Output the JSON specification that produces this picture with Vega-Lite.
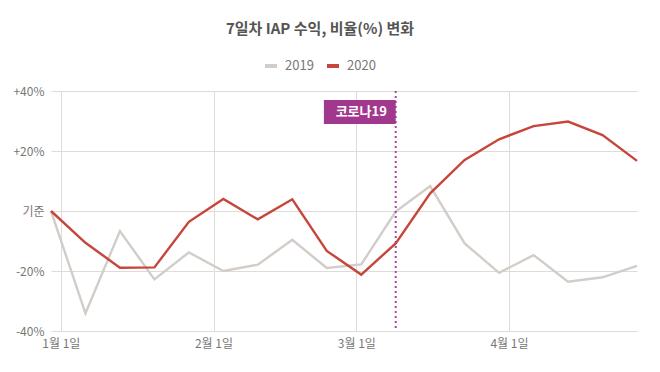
{
  "$schema": "https://vega.github.io/schema/vega-lite/v6.json",
  "width": 586,
  "height": 240,
  "autosize": {"type": "none"},
  "padding": {"left": 51, "top": 91, "right": 23, "bottom": 41},
  "background": "#ffffff",
  "title": {"text": "7일차 IAP 수익, 비율(%) 변화", "font": "Noto Sans CJK KR", "fontSize": 15, "fontWeight": "bold", "color": "#555555", "anchor": "middle", "dx": -24, "offset": 21},
  "config": {"font": "Noto Sans CJK KR", "view": {"stroke": null}},
  "datasets": {
    "series": [
      {"date": "2019-12-30", "year": "2019", "value": 0},
      {"date": "2020-01-06", "year": "2019", "value": -34.1},
      {"date": "2020-01-13", "year": "2019", "value": -6.7},
      {"date": "2020-01-20", "year": "2019", "value": -22.8},
      {"date": "2020-01-27", "year": "2019", "value": -13.8},
      {"date": "2020-02-03", "year": "2019", "value": -20},
      {"date": "2020-02-10", "year": "2019", "value": -17.9},
      {"date": "2020-02-17", "year": "2019", "value": -9.6},
      {"date": "2020-02-24", "year": "2019", "value": -19},
      {"date": "2020-03-02", "year": "2019", "value": -17.8},
      {"date": "2020-03-09", "year": "2019", "value": -0.2},
      {"date": "2020-03-16", "year": "2019", "value": 8.3},
      {"date": "2020-03-23", "year": "2019", "value": -10.8},
      {"date": "2020-03-30", "year": "2019", "value": -20.6},
      {"date": "2020-04-06", "year": "2019", "value": -14.7},
      {"date": "2020-04-13", "year": "2019", "value": -23.6},
      {"date": "2020-04-20", "year": "2019", "value": -22.1},
      {"date": "2020-04-27", "year": "2019", "value": -18.3},
      {"date": "2019-12-30", "year": "2020", "value": 0},
      {"date": "2020-01-06", "year": "2020", "value": -10.6},
      {"date": "2020-01-13", "year": "2020", "value": -18.9},
      {"date": "2020-01-20", "year": "2020", "value": -18.8},
      {"date": "2020-01-27", "year": "2020", "value": -3.6},
      {"date": "2020-02-03", "year": "2020", "value": 4},
      {"date": "2020-02-10", "year": "2020", "value": -2.8},
      {"date": "2020-02-17", "year": "2020", "value": 3.9},
      {"date": "2020-02-24", "year": "2020", "value": -13.3},
      {"date": "2020-03-02", "year": "2020", "value": -21.2},
      {"date": "2020-03-09", "year": "2020", "value": -10.8},
      {"date": "2020-03-16", "year": "2020", "value": 5.9},
      {"date": "2020-03-23", "year": "2020", "value": 17},
      {"date": "2020-03-30", "year": "2020", "value": 23.9},
      {"date": "2020-04-06", "year": "2020", "value": 28.3},
      {"date": "2020-04-13", "year": "2020", "value": 29.8},
      {"date": "2020-04-20", "year": "2020", "value": 25.3},
      {"date": "2020-04-27", "year": "2020", "value": 16.7}
    ],
    "covid": [
      {"date": "2020-03-09", "start": "2020-02-23T10:00:00", "top": 37, "bottom": 29, "textDate": "2020-03-02", "textY": 33, "label": "코로나19"}
    ]
  },
  "layer": [
    {
      "data": {"name": "series"},
      "mark": {"type": "line", "strokeWidth": 2.4},
      "encoding": {
        "x": {
          "field": "date", "type": "temporal",
          "scale": {"domain": ["2019-12-30", "2020-04-27"]},
          "axis": {
            "title": null,
            "values": [{"year": 2020, "month": 1, "date": 1}, {"year": 2020, "month": 2, "date": 1}, {"year": 2020, "month": 3, "date": 1}, {"year": 2020, "month": 4, "date": 1}],
            "format": "%-m월 %-d일",
            "domain": false, "ticks": false, "grid": true, "gridColor": "#dedbd8", "gridWidth": 1,
            "labelColor": "#777777", "labelFontSize": 12, "labelPadding": 7
          }
        },
        "y": {
          "field": "value", "type": "quantitative",
          "scale": {"domain": [-40, 40], "nice": false, "zero": false},
          "axis": {
            "title": null,
            "values": [-40, -20, 0, 20, 40],
            "labelExpr": "datum.value == 0 ? '기준' : (datum.value > 0 ? '+' : '') + datum.value + '%'",
            "domain": false, "ticks": false, "grid": true, "gridColor": "#dedbd8", "gridWidth": 1,
            "labelColor": "#777777", "labelFontSize": 12, "labelPadding": 7
          }
        },
        "color": {
          "field": "year", "type": "nominal",
          "scale": {"domain": ["2019", "2020"], "range": ["#d2cdc8", "#c7463b"]},
          "legend": {
            "title": null, "orient": "none", "legendX": 212, "legendY": -33, "direction": "horizontal",
            "symbolType": "stroke", "symbolStrokeWidth": 4, "symbolSize": 144,
            "labelFontSize": 13, "labelColor": "#777777", "columnPadding": 5, "labelOffset": 6
          }
        }
      }
    },
    {
      "mark": {"type": "rule", "color": "#555555", "strokeWidth": 1.3},
      "encoding": {"y": {"datum": 0, "type": "quantitative"}}
    },
    {
      "data": {"name": "covid"},
      "mark": {"type": "rule", "color": "#a548a5", "strokeWidth": 2, "strokeDash": [2, 3]},
      "encoding": {"x": {"field": "date", "type": "temporal"}}
    },
    {
      "data": {"name": "covid"},
      "mark": {"type": "rect", "color": "#a2388d"},
      "encoding": {
        "x": {"field": "start", "type": "temporal"},
        "x2": {"field": "date"},
        "y": {"field": "top", "type": "quantitative"},
        "y2": {"field": "bottom"}
      }
    },
    {
      "data": {"name": "covid"},
      "mark": {"type": "text", "color": "#ffffff", "fontSize": 13, "fontWeight": "bold", "align": "center", "baseline": "middle"},
      "encoding": {
        "x": {"field": "textDate", "type": "temporal"},
        "y": {"field": "textY", "type": "quantitative"},
        "text": {"field": "label"}
      }
    }
  ]
}
